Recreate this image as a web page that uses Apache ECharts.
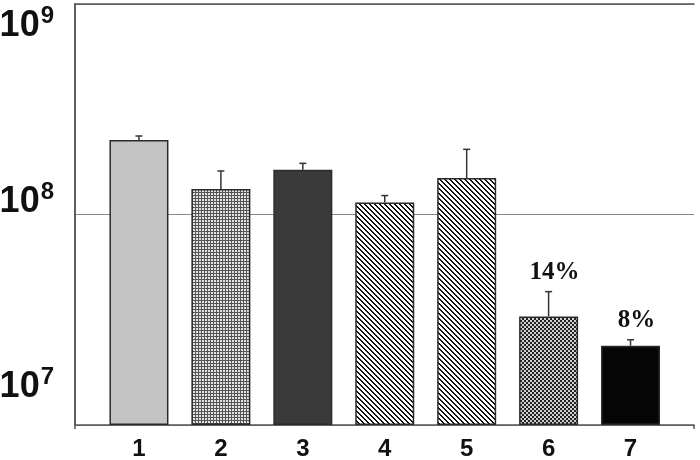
<!DOCTYPE html>
<html>
<head>
<meta charset="utf-8">
<script src="https://cdn.jsdelivr.net/npm/echarts@6/dist/echarts.min.js"></script>
<style>
  html, body { margin: 0; padding: 0; background: #fff; }
  #chart { width: 700px; height: 460px; }
</style>
</head>
<body>
<div id="chart"></div>
<script>
const categories = ['1', '2', '3', '4', '5', '6', '7']
const barValues = [2.26e8, 1.32e8, 1.63e8, 1.14e8, 1.49e8, 3.28e7, 2.38e7]
const errorTops = [2.36e8, 1.61e8, 1.75e8, 1.23e8, 2.04e8, 4.3e7, 2.54e7]
const percentLabels = ['', '', '', '', '', '14%', '8%']
const yTickValues = [1e7, 1e8, 1e9]
const yTickExponents = ['7', '8', '9']

// small canvas tiles for the hatched bars
function makePattern(size, bg, fg, isDark) {
  const c = document.createElement('canvas')
  c.width = size
  c.height = size
  const ctx = c.getContext('2d')
  ctx.fillStyle = bg
  ctx.fillRect(0, 0, size, size)
  ctx.fillStyle = fg
  for (let x = 0; x < size; x++) {
    for (let y = 0; y < size; y++) {
      if (isDark(x, y)) ctx.fillRect(x, y, 1, 1)
    }
  }
  return { image: c, repeat: 'repeat' }
}

const fills = [
  '#c4c4c4',
  makePattern(3, '#e2e2e2', '#555555', (x, y) => x === 0 || y === 0),
  '#3a3a3a',
  makePattern(5, '#ffffff', '#111111', (x, y) => ((x - y + 10) % 5) < 2),
  makePattern(5, '#ffffff', '#111111', (x, y) => ((x - y + 10) % 5) < 2),
  makePattern(4, '#d0d0d0', '#222222', (x, y) => ((x >> 1) + (y >> 1)) % 2 === 0),
  '#050505'
]

const chart = echarts.init(document.getElementById('chart'))

const yLabel = (v) => {
  const i = yTickValues.findIndex(t => Math.abs(Math.log10(t) - Math.log10(v)) < 1e-6)
  if (i < 0) return ''
  const line = '{b|10}{s|' + yTickExponents[i] + '}'
  if (i === 2) return '{g40|}\n' + line
  if (i === 1) return line + '\n{g28|}'
  return line + '\n{g80|}'
}

const logRange = { type: 'log', logBase: 10, min: 1e7, max: 1e9 }
const frameLine = { show: true, lineStyle: { color: '#555', width: 1.5 } }

chart.setOption({
  animation: false,
  backgroundColor: '#fff',
  grid: [
    { left: 75, right: 6, top: 4, bottom: 35, outerBoundsMode: 'none', containLabel: false },
    { left: 98, right: 28.5, top: 4, bottom: 35, outerBoundsMode: 'none', containLabel: false }
  ],
  xAxis: [
    {
      gridIndex: 0,
      type: 'value',
      min: 0,
      max: 1,
      interval: 1,
      axisLine: frameLine,
      axisTick: { show: true, length: 4, lineStyle: { color: '#555', width: 1.5 } },
      axisLabel: { show: false },
      splitLine: { show: false }
    },
    {
      gridIndex: 1,
      type: 'category',
      data: categories,
      axisLine: { show: false },
      axisTick: { show: false },
      axisLabel: {
        margin: 12,
        color: '#111',
        fontSize: 24,
        fontWeight: 'bold',
        fontFamily: 'Liberation Sans, Arial, sans-serif'
      }
    },
    {
      gridIndex: 0,
      type: 'value',
      position: 'top',
      min: 0,
      max: 1,
      interval: 1,
      axisLine: frameLine,
      axisTick: { show: false },
      axisLabel: { show: false },
      splitLine: { show: false }
    }
  ],
  yAxis: [
    {
      ...logRange,
      gridIndex: 0,
      axisLine: frameLine,
      axisTick: { show: false },
      splitLine: { show: true, lineStyle: { color: '#888', width: 1.2 } },
      axisLabel: {
        margin: 21,
        showMinLabel: true,
        showMaxLabel: true,
        formatter: yLabel,
        rich: {
          b: { fontSize: 36, fontWeight: 'bold', color: '#111', fontFamily: 'Liberation Sans, Arial, sans-serif', verticalAlign: 'bottom' },
          s: { fontSize: 24, fontWeight: 'bold', color: '#111', fontFamily: 'Liberation Sans, Arial, sans-serif', verticalAlign: 'bottom', padding: [0, 0, 16, 1] },
          g40: { height: 40, width: 1 },
          g28: { height: 28, width: 1 },
          g80: { height: 80, width: 1 }
        }
      }
    },
    {
      ...logRange,
      gridIndex: 0,
      position: 'right',
      axisLine: frameLine,
      axisTick: { show: false },
      axisLabel: { show: false },
      splitLine: { show: false }
    },
    {
      ...logRange,
      gridIndex: 1,
      startValue: 1e7,
      show: false,
      splitLine: { show: false }
    }
  ],
  series: [
    {
      type: 'bar',
      xAxisIndex: 1,
      yAxisIndex: 2,
      barWidth: 59,
      clip: true,
      itemStyle: { borderColor: '#2b2b2b', borderWidth: 1.5 },
      data: barValues.map((v, i) => ({ value: v, itemStyle: { color: fills[i] } }))
    },
    {
      type: 'custom',
      xAxisIndex: 1,
      yAxisIndex: 2,
      z: 3,
      data: categories.map((c, i) => [i, barValues[i], errorTops[i]]),
      renderItem: (params, api) => {
        const i = api.value(0)
        const p0 = api.coord([i, api.value(1)])
        const p1 = api.coord([i, api.value(2)])
        const stroke = { stroke: '#333', lineWidth: 1.5 }
        const children = [
          { type: 'line', shape: { x1: p0[0], y1: p0[1], x2: p1[0], y2: p1[1] }, style: stroke },
          { type: 'line', shape: { x1: p1[0] - 3.5, y1: p1[1], x2: p1[0] + 3.5, y2: p1[1] }, style: stroke }
        ]
        const txt = percentLabels[params.dataIndex]
        if (txt) {
          children.push({
            type: 'text',
            x: p1[0] + 6,
            y: p1[1] - 19,
            style: {
              text: txt,
              fill: '#111',
              font: 'bold 25px "Liberation Serif", "Times New Roman", serif',
              align: 'center',
              verticalAlign: 'middle'
            }
          })
        }
        return { type: 'group', children }
      }
    }
  ]
})
</script>
</body>
</html>
